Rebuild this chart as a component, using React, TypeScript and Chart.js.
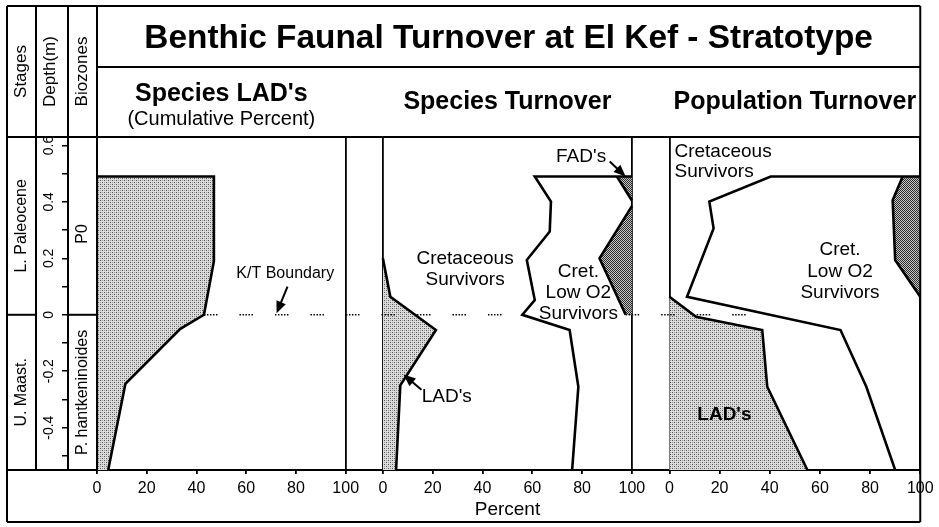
import { useEffect, useRef } from 'react';
import { Chart, registerables } from 'chart.js';

Chart.register(...registerables);

const FONT = "'Liberation Sans', Arial, Helvetica, sans-serif";
const W = 939;
const H = 527;

// ---------------- text ----------------
const TITLE = 'Benthic Faunal Turnover at El Kef - Stratotype';
const PANEL_TITLES = ["Species LAD's", 'Species Turnover', 'Population Turnover'];
const PANEL_SUBTITLES = ['(Cumulative Percent)', '', ''];
const COLUMN_HEADERS = ['Stages', 'Depth(m)', 'Biozones'];
const X_TITLE = 'Percent';

// ---------------- axes ----------------
const DEPTH_MIN = -0.55;
const DEPTH_MAX = 0.63;
const DEPTH_TICKS = [-0.5, -0.4, -0.3, -0.2, -0.1, 0, 0.1, 0.2, 0.3, 0.4, 0.5, 0.6];
const DEPTH_LABELS = [-0.4, -0.2, 0, 0.2, 0.4, 0.6];
const PCT_TICKS = [0, 20, 40, 60, 80, 100];

const STAGES = ['L. Paleocene', 'U. Maast.'];
const BIOZONES = ['P0', 'P. hantkeninoides'];
const ZONE_TOPS = [DEPTH_MAX, 0];
const ZONE_BASES = [0, DEPTH_MIN];

const KT_DEPTH = 0;

// ---------------- panel 1: Species LAD's (cumulative percent) ----------------
const CUM_LAD_DEPTH = [0.49, 0.49, 0.19, 0.0, -0.05, -0.245, -0.55];
const CUM_LAD_PCT = [0, 47, 47, 43, 33.5, 11.4, 4.5];

// ---------------- panel 2: Species turnover ----------------
const ST_LAD_DEPTH = [0.2, 0.064, -0.054, -0.25, -0.55];
const ST_LAD_PCT = [0, 3, 21.3, 7, 5.3];
const ST_CRET_DEPTH = [0.49, 0.49, 0.401, 0.295, 0.194, 0.052, 0.0, -0.054, -0.255, -0.55];
const ST_CRET_PCT = [100, 61, 67.5, 67, 57.8, 61, 56, 75, 78.5, 76];
const ST_FAD_DEPTH = [0.49, 0.405];
const ST_FAD_PCT = [94, 100];
const ST_LOWO2_DEPTH = [0.385, 0.2, 0.0];
const ST_LOWO2_PCT = [100, 87, 97.5];

// ---------------- panel 3: Population turnover ----------------
const POP_LAD_DEPTH = [0.064, -0.007, -0.054, -0.255, -0.55];
const POP_LAD_PCT = [0, 10.6, 37, 39, 55];
const POP_CRET_DEPTH = [0.49, 0.49, 0.401, 0.306, 0.064, -0.054, -0.255, -0.55];
const POP_CRET_PCT = [100, 40.4, 15.9, 17.6, 7, 68.2, 78.5, 90];
const POP_LOWO2_DEPTH = [0.49, 0.406, 0.194, 0.064];
const POP_LOWO2_PCT = [93, 89, 90, 100];

// ---------------- annotations (value coordinates) ----------------
const PANEL_LABELS: any[] = [
  { axis: 'x1', x: 75.7, depth: 0.145, lines: ['K/T Boundary'], size: 16 },
  { axis: 'x2', x: 33, depth: 0.198, lines: ['Cretaceous', 'Survivors'], size: 19, gap: 21 },
  { axis: 'x2', x: 78.5, depth: 0.153, lines: ['Cret.', 'Low O2', 'Survivors'], size: 19, gap: 21 },
  { axis: 'x2', x: 79.6, depth: 0.56, lines: ["FAD's"], size: 19 },
  { axis: 'x2', x: 15.6, depth: -0.29, lines: ["LAD's"], size: 19, align: 'left' },
  { axis: 'x3', x: 2, depth: 0.578, lines: ['Cretaceous', 'Survivors'], size: 19, align: 'left', gap: 20 },
  { axis: 'x3', x: 68, depth: 0.23, lines: ['Cret.', 'Low O2', 'Survivors'], size: 19, gap: 21.5 },
  { axis: 'x3', x: 21.9, depth: -0.355, lines: ["LAD's"], size: 19, bold: true },
];
const ARROWS: any[] = [
  { axis: 'x1', from: [76.6, 0.1], to: [72.2, 0.005] },
  { axis: 'x2', from: [91.1, 0.543], to: [97.5, 0.49] },
  { axis: 'x2', from: [15.5, -0.266], to: [8.3, -0.212] },
];
const KT_SEGMENTS: any[] = [
  { from: ['x1', 43], to: ['x2', 56] },
  { from: ['x2', 97.5], to: ['x3', 33] },
];

// ---------------- styling / frame geometry ----------------
const FRAME = { left: 7, top: 6, bottom: 522, col1: 36, col2: 68, titleRule: 67 };
const LIGHT_TILE = [
  ['#555555', '#dcdcdc', '#999999', '#dcdcdc'],
  ['#dcdcdc', '#dcdcdc', '#dcdcdc', '#dcdcdc'],
  ['#999999', '#dcdcdc', '#555555', '#dcdcdc'],
  ['#dcdcdc', '#dcdcdc', '#dcdcdc', '#dcdcdc'],
];
const DARK_TILE = [
  ['#2a2a2a', '#c8c8c8'],
  ['#c8c8c8', '#2a2a2a'],
];

function makePattern(ctx: CanvasRenderingContext2D, tile: string[][]) {
  const c = document.createElement('canvas');
  c.width = tile[0].length;
  c.height = tile.length;
  const g = c.getContext('2d')!;
  tile.forEach((row, j) => row.forEach((col, i) => { g.fillStyle = col; g.fillRect(i, j, 1, 1); }));
  return ctx.createPattern(c, 'repeat');
}

const pts = (xs: number[], ys: number[]) => xs.map((x, i) => ({ x, y: ys[i] }));

const curve = (axis: string, xs: number[], ys: number[]) => ({
  xAxisID: axis, yAxisID: 'y', data: pts(xs, ys),
  borderColor: '#000', borderWidth: 2.6, pointRadius: 0, fill: false, order: 0,
});
const area = (axis: string, poly: any[], bg: any) => ({
  xAxisID: axis, yAxisID: 'y', data: poly,
  borderColor: 'rgba(0,0,0,0)', borderWidth: 1, backgroundColor: bg, pointRadius: 0, fill: 'shape', order: 1,
});

const xAxis = (min: number, max: number, weight: number, title?: string) => ({
  type: 'linear', axis: 'x', position: 'bottom', stack: 'pct', stackWeight: weight,
  min, max, z: 1,
  afterBuildTicks: (s: any) => { s.ticks = PCT_TICKS.map((value) => ({ value })); },
  afterFit: (s: any) => { s.height = 52; },
  grid: {
    color: (c: any) => (c.tick && (c.tick.value === 0 || c.tick.value === 100) ? '#000' : 'rgba(0,0,0,0)'),
    lineWidth: 1.8, tickColor: '#000', tickLength: 4, drawTicks: true,
  },
  border: { display: true, color: '#000', width: 2 },
  ticks: {
    color: '#000', font: { size: 16, family: FONT }, padding: 5.4,
    autoSkip: false, maxRotation: 0, minRotation: 0,
  },
  title: title
    ? { display: true, text: title, color: '#000', font: { size: 19, family: FONT }, padding: { top: 0, bottom: 0.6 } }
    : { display: false },
});

function line(ctx: CanvasRenderingContext2D, x1: number, y1: number, x2: number, y2: number) {
  ctx.beginPath();
  ctx.moveTo(x1, y1);
  ctx.lineTo(x2, y2);
  ctx.stroke();
}
function vText(ctx: CanvasRenderingContext2D, text: string, x: number, y: number) {
  ctx.save();
  ctx.translate(x, y);
  ctx.rotate(-Math.PI / 2);
  ctx.textAlign = 'center';
  ctx.textBaseline = 'middle';
  ctx.fillText(text, 0, 0);
  ctx.restore();
}

const overlay = {
  id: 'overlay',
  afterDatasetsDraw(chart: any) {
    const { ctx, scales } = chart;
    const yS = scales.y;
    ctx.save();
    ctx.fillStyle = '#000';
    ctx.strokeStyle = '#000';
    // K/T boundary dotted line
    ctx.lineWidth = 1.5;
    ctx.setLineDash([1.5, 1.5, 1.5, 1.5, 1.5, 1.5, 1.5, 1.5, 1.5, 22]);
    const ky = yS.getPixelForValue(KT_DEPTH);
    KT_SEGMENTS.forEach((s) => {
      line(ctx, scales[s.from[0]].getPixelForValue(s.from[1]), ky, scales[s.to[0]].getPixelForValue(s.to[1]), ky);
    });
    ctx.setLineDash([]);
    // arrows
    ARROWS.forEach((a) => {
      const xs = scales[a.axis];
      const x1 = xs.getPixelForValue(a.from[0]);
      const y1 = yS.getPixelForValue(a.from[1]);
      const x2 = xs.getPixelForValue(a.to[0]);
      const y2 = yS.getPixelForValue(a.to[1]);
      const ang = Math.atan2(y2 - y1, x2 - x1);
      const hl = 12;
      const hw = 5;
      ctx.lineWidth = 2;
      line(ctx, x1, y1, x2 - Math.cos(ang) * hl * 0.8, y2 - Math.sin(ang) * hl * 0.8);
      ctx.beginPath();
      ctx.moveTo(x2, y2);
      ctx.lineTo(x2 - Math.cos(ang) * hl - Math.sin(ang) * hw, y2 - Math.sin(ang) * hl + Math.cos(ang) * hw);
      ctx.lineTo(x2 - Math.cos(ang) * hl + Math.sin(ang) * hw, y2 - Math.sin(ang) * hl - Math.cos(ang) * hw);
      ctx.closePath();
      ctx.fill();
    });
    // labels
    PANEL_LABELS.forEach((l) => {
      const x = scales[l.axis].getPixelForValue(l.x);
      const y = yS.getPixelForValue(l.depth);
      ctx.font = `${l.bold ? 'bold ' : ''}${l.size}px ${FONT}`;
      ctx.textAlign = l.align || 'center';
      ctx.textBaseline = 'middle';
      l.lines.forEach((t: string, i: number) => ctx.fillText(t, x, y + i * (l.gap || 0)));
    });
    ctx.restore();
  },
  afterDraw(chart: any) {
    const { ctx, chartArea: ca, scales } = chart;
    const yS = scales.y;
    const R = scales.x3.getPixelForValue(100);
    const { left: L, top: T, bottom: B, col1, col2, titleRule } = FRAME;
    const C3 = ca.left;
    ctx.save();
    ctx.strokeStyle = '#000';
    ctx.fillStyle = '#000';
    ctx.lineWidth = 2;
    line(ctx, L, T, R, T);
    line(ctx, L, B, R, B);
    line(ctx, L, T, L, B);
    line(ctx, R, T, R, B);
    line(ctx, C3, titleRule, R, titleRule);
    line(ctx, L, ca.top, R, ca.top);
    line(ctx, L, ca.bottom, C3, ca.bottom);
    line(ctx, col1, T, col1, ca.bottom);
    line(ctx, col2, T, col2, ca.bottom);
    line(ctx, C3, T, C3, ca.bottom);
    const y0 = yS.getPixelForValue(0);
    line(ctx, L, y0, col1, y0);
    line(ctx, col2, y0, C3, y0);

    // panel headings
    const heads = [scales.x1, scales.x2, scales.x3];
    const baselines = [101, 109, 109];
    ctx.textAlign = 'center';
    ctx.textBaseline = 'alphabetic';
    heads.forEach((s, i) => {
      const cx = s.getPixelForValue(50);
      ctx.font = `bold 25px ${FONT}`;
      ctx.fillText(PANEL_TITLES[i], cx, baselines[i]);
      if (PANEL_SUBTITLES[i]) {
        ctx.font = `20px ${FONT}`;
        ctx.fillText(PANEL_SUBTITLES[i], cx, 125);
      }
    });

    // column headers and zones
    ctx.font = `17px ${FONT}`;
    const colX = [(L + col1) / 2, (col1 + col2) / 2 - 2, (col2 + C3) / 2];
    COLUMN_HEADERS.forEach((h, i) => vText(ctx, h, colX[i], (T + ca.top) / 2));
    ctx.font = `16px ${FONT}`;
    STAGES.forEach((s, i) => {
      vText(ctx, s, colX[0], (yS.getPixelForValue(ZONE_TOPS[i]) + yS.getPixelForValue(ZONE_BASES[i])) / 2);
    });
    BIOZONES.forEach((s, i) => {
      vText(ctx, s, colX[2], (yS.getPixelForValue(ZONE_TOPS[i]) + yS.getPixelForValue(ZONE_BASES[i])) / 2 + (i === 0 ? 8 : 0));
    });
    ctx.restore();
  },
};

export default function App() {
  const ref = useRef<HTMLCanvasElement>(null);
  useEffect(() => {
    const canvas = ref.current!;
    const ctx = canvas.getContext('2d')!;
    const light = makePattern(ctx, LIGHT_TILE);
    const dark = makePattern(ctx, DARK_TILE);

    const datasets: any[] = [
      // fills
      area('x1', [...pts(CUM_LAD_PCT, CUM_LAD_DEPTH), { x: 0, y: DEPTH_MIN }], light),
      area('x2', [...pts(ST_LAD_PCT, ST_LAD_DEPTH), { x: 0, y: DEPTH_MIN }], light),
      area('x2', [...pts(ST_FAD_PCT, ST_FAD_DEPTH), { x: 100, y: ST_FAD_DEPTH[0] }], dark),
      area('x2', [...pts(ST_LOWO2_PCT, ST_LOWO2_DEPTH), { x: 100, y: ST_LOWO2_DEPTH[ST_LOWO2_DEPTH.length - 1] }], dark),
      area('x3', [...pts(POP_LAD_PCT, POP_LAD_DEPTH), { x: 0, y: DEPTH_MIN }], light),
      area('x3', [...pts(POP_LOWO2_PCT, POP_LOWO2_DEPTH), { x: 100, y: POP_LOWO2_DEPTH[0] }], dark),
      // boundary curves
      curve('x1', CUM_LAD_PCT, CUM_LAD_DEPTH),
      curve('x2', ST_LAD_PCT, ST_LAD_DEPTH),
      curve('x2', ST_CRET_PCT, ST_CRET_DEPTH),
      curve('x2', ST_FAD_PCT, ST_FAD_DEPTH),
      curve('x2', ST_LOWO2_PCT, ST_LOWO2_DEPTH),
      curve('x3', POP_LAD_PCT, POP_LAD_DEPTH),
      curve('x3', POP_CRET_PCT, POP_CRET_DEPTH),
      curve('x3', POP_LOWO2_PCT, POP_LOWO2_DEPTH),
    ];

    const chart = new Chart(canvas, {
      type: 'line',
      data: { datasets },
      options: {
        responsive: false,
        animation: false,
        events: [],
        layout: { padding: { left: 0, top: 0, right: 15.5, bottom: 5 } },
        plugins: {
          legend: { display: false },
          tooltip: { enabled: false },
          title: {
            display: true, text: TITLE, fullSize: false, color: '#000',
            font: { size: 33.4, weight: 'bold', family: FONT },
            padding: { top: 19, bottom: 77.9 },
          },
        },
        scales: {
          y: {
            type: 'linear', axis: 'y', position: 'left', weight: 1,
            min: DEPTH_MIN, max: DEPTH_MAX,
            afterBuildTicks: (s: any) => { s.ticks = DEPTH_TICKS.map((value) => ({ value })); },
            afterFit: (s: any) => { s.width = 68; },
            grid: { drawOnChartArea: false, color: '#000', lineWidth: 1.5, tickLength: 6 },
            border: { display: false },
            ticks: {
              autoSkip: false, minRotation: 90, maxRotation: 90, crossAlign: 'center', padding: 1,
              color: '#000', font: { size: 14, family: FONT },
              callback: (v: any) => {
                const r = Math.round(Number(v) * 10) / 10;
                return DEPTH_LABELS.includes(r) ? String(r) : '';
              },
            },
          },
          yz: {
            type: 'linear', axis: 'y', position: 'left', weight: 0,
            min: DEPTH_MIN, max: DEPTH_MAX,
            afterFit: (s: any) => { s.width = 29; },
            grid: { display: false }, border: { display: false }, ticks: { display: false },
          },
          x1: xAxis(0, 107.47, 268.35),
          x2: xAxis(-7.46, 107.54, 287.5, X_TITLE),
          x3: xAxis(-7.49, 100, 270.65),
        } as any,
      },
      plugins: [overlay as any],
    } as any);
    return () => chart.destroy();
  }, []);

  return (
    <div style={{ position: 'absolute', left: 0, top: 0, width: W, height: H, background: '#fff' }}>
      <canvas ref={ref} width={W} height={H} style={{ display: 'block' }} />
    </div>
  );
}
